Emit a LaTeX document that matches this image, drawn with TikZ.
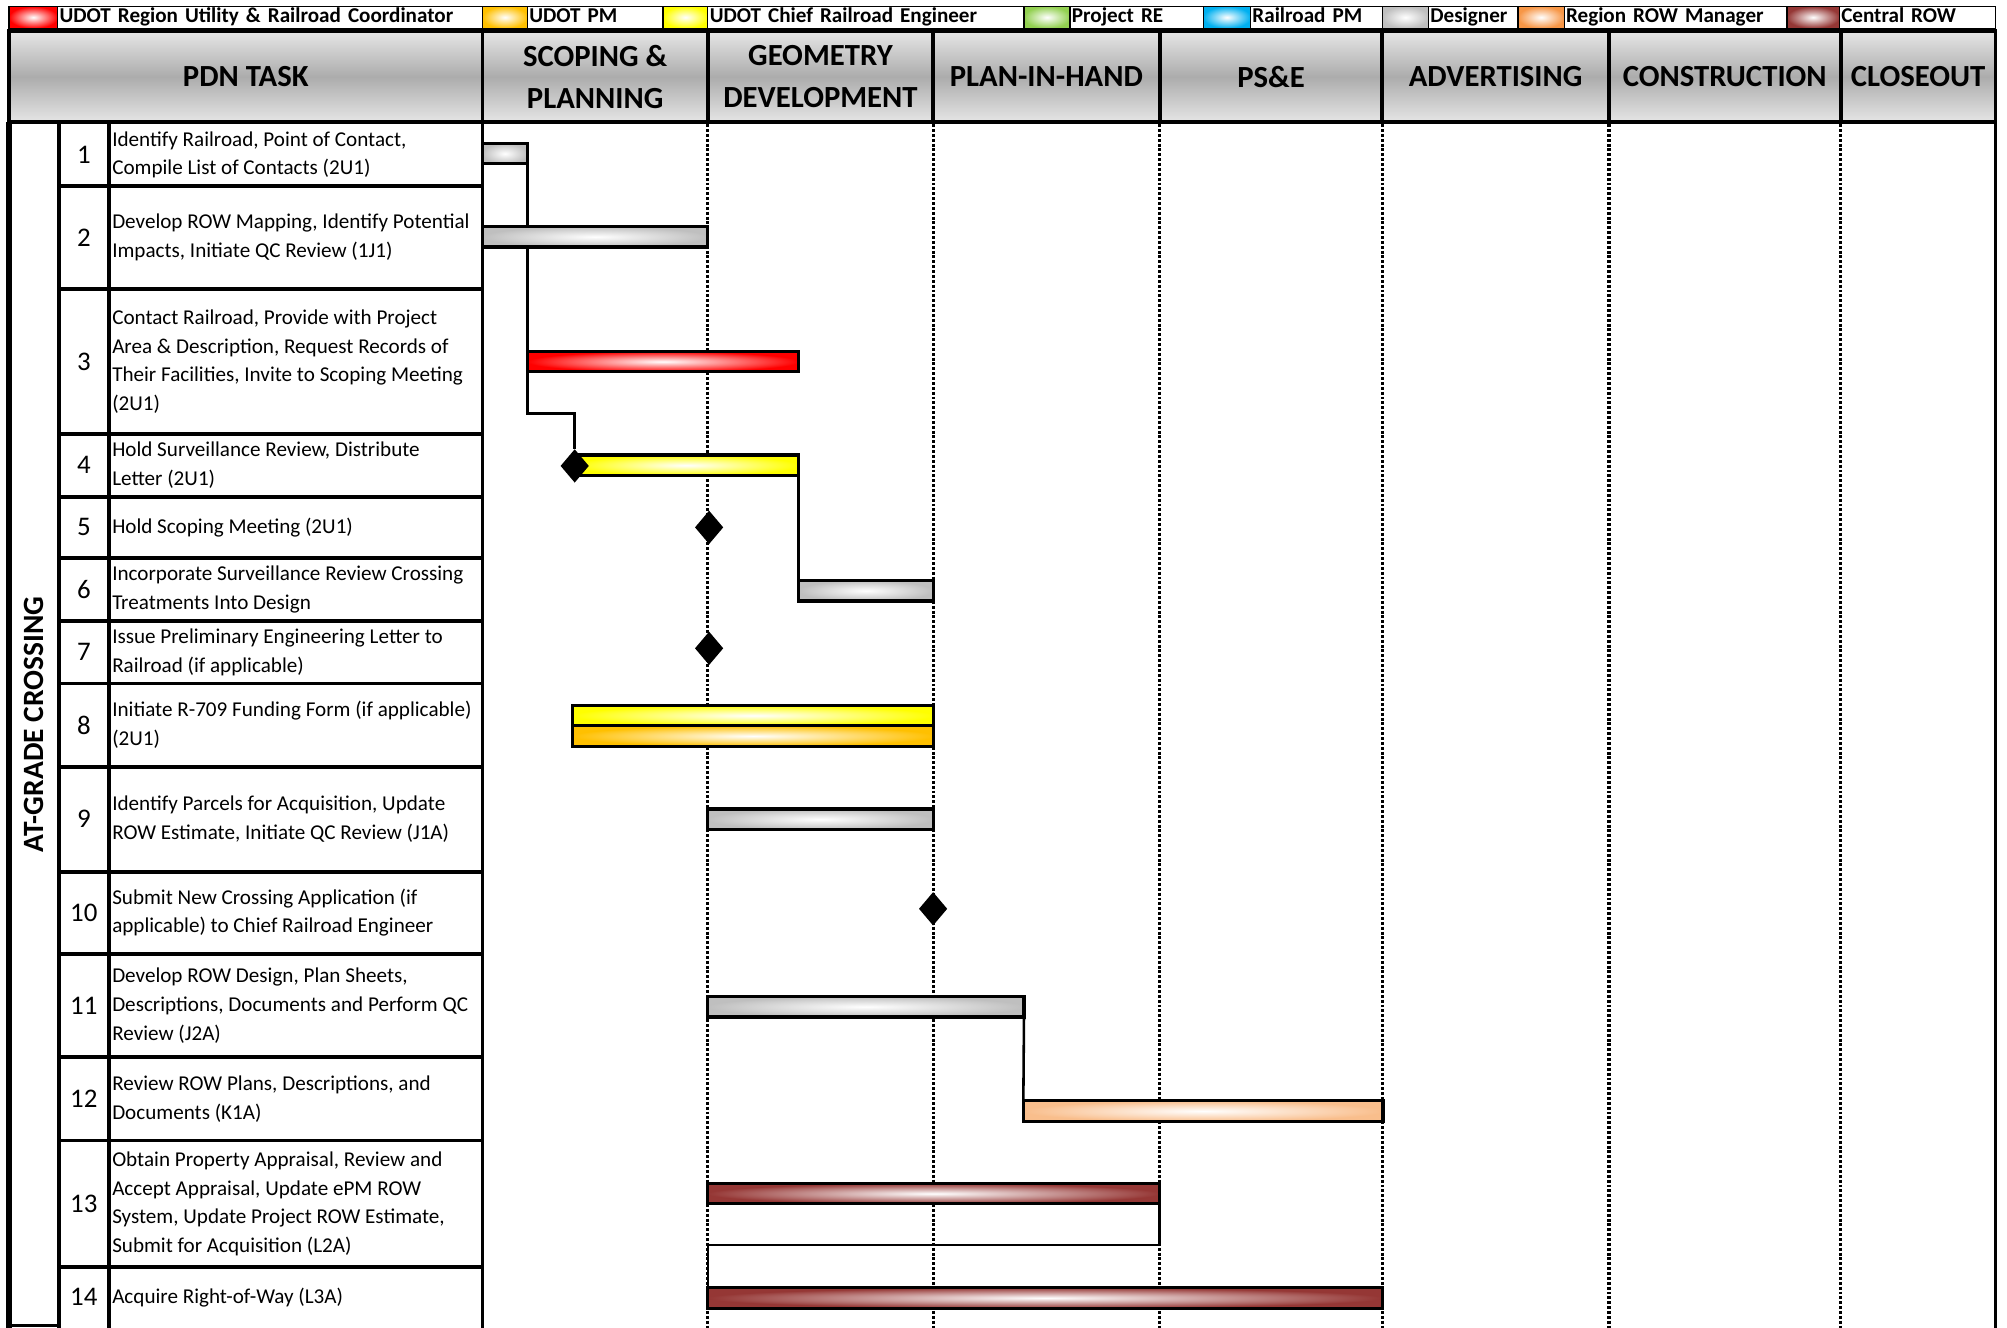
\documentclass[tikz,border=0pt]{standalone}
\usepackage{fontspec}
\setmainfont{Carlito}
\usetikzlibrary{shapes.geometric,positioning,backgrounds}

\definecolor{coordred}{HTML}{FF0000}
\definecolor{pmorange}{HTML}{FFC000}
\definecolor{chiefyellow}{HTML}{FFFF00}
\definecolor{regreen}{HTML}{92D050}
\definecolor{rrblue}{HTML}{00B0F0}
\definecolor{designgray}{HTML}{BFBFBF}
\definecolor{roworange}{HTML}{F79646}
\definecolor{rowpeach}{HTML}{F9BE8C}
\definecolor{centralrow}{HTML}{953735}

\tikzstyle{swatch} = [rectangle, draw, line width=1pt, outer sep=0pt, inner sep=0pt,
    minimum height=17pt, inner color=white]
\tikzstyle{legend} = [rectangle, draw, line width=1pt, outer sep=0pt, minimum height=17pt,
    inner xsep=1.5pt, inner ysep=0pt, text height=12pt, text depth=4pt, align=left,
    font=\fontsize{16.5}{17}\selectfont\bfseries]
\tikzstyle{header} = [rectangle, draw, line width=3pt, outer sep=0pt, inner sep=0pt,
    minimum height=71pt, top color=gray!20, bottom color=gray!20, middle color=gray!65,
    align=center, font=\fontsize{24}{33}\selectfont\bfseries]
\tikzstyle{task} = [anchor=west, align=left, inner sep=1.5pt, font=\fontsize{16.5}{22.5}\selectfont]
\tikzstyle{num} = [font=\fontsize{21}{21}\selectfont]
\tikzstyle{bar} = [rectangle, draw, line width=2.5pt, outer sep=0pt, inner sep=0pt,
    minimum height=16pt, anchor=west, inner color=white]
\tikzstyle{designer} = [bar, outer color=designgray]
\tikzstyle{coordinator} = [bar, outer color=coordred]
\tikzstyle{chiefeng} = [bar, outer color=chiefyellow]
\tikzstyle{udotpm} = [bar, outer color=pmorange]
\tikzstyle{rowmanager} = [bar, outer color=rowpeach]
\tikzstyle{central} = [bar, outer color=centralrow]
\tikzstyle{milestone} = [diamond, fill=black, minimum width=22pt, minimum height=26pt,
    inner sep=0pt, outer sep=0pt]
\tikzstyle{link} = [draw, line width=2pt]
\tikzstyle{phase} = [line width=2.5pt, dash pattern=on 2.3pt off 1.5pt]
\tikzstyle{rule} = [line width=3pt]

\begin{document}
\begin{tikzpicture}[x=1pt, y=-1pt]
    \useasboundingbox (0,0) rectangle (1568,1037);

    % Legend
    \node [swatch, outer color=coordred, minimum width=38pt, anchor=west] (swcoord) at (7,13.5) {};
    \node [legend, right=0pt of swcoord, text width=329pt] (lgcoord) {UDOT Region Utility \& Railroad Coordinator};
    \node [swatch, outer color=pmorange, minimum width=35pt, right=0pt of lgcoord] (swpm) {};
    \node [legend, right=0pt of swpm, text width=103pt] (lgpm) {UDOT PM};
    \node [swatch, outer color=chiefyellow, minimum width=35pt, right=0pt of lgpm] (swchief) {};
    \node [legend, right=0pt of swchief, text width=244pt] (lgchief) {UDOT Chief Railroad Engineer};
    \node [swatch, outer color=regreen, minimum width=36pt, right=0pt of lgchief] (swre) {};
    \node [legend, right=0pt of swre, text width=101pt] (lgre) {Project RE};
    \node [swatch, outer color=rrblue, minimum width=37pt, right=0pt of lgre] (swrr) {};
    \node [legend, right=0pt of swrr, text width=100pt] (lgrr) {Railroad PM};
    \node [swatch, outer color=designgray, minimum width=36pt, right=0pt of lgrr] (swdesign) {};
    \node [legend, right=0pt of swdesign, text width=67pt] (lgdesign) {Designer};
    \node [swatch, outer color=roworange, minimum width=36pt, right=0pt of lgdesign] (swrow) {};
    \node [legend, right=0pt of swrow, text width=171pt] (lgrow) {Region ROW Manager};
    \node [swatch, outer color=centralrow, minimum width=41pt, right=0pt of lgrow] (swcentral) {};
    \node [legend, right=0pt of swcentral, text width=119pt] (lgcentral) {Central ROW};

    % Phase header
    \node [header, minimum width=370pt, anchor=west] (pdntask) at (7,60) {PDN TASK};
    \node [header, minimum width=176pt, right=0pt of pdntask] (scoping) {SCOPING \&\\PLANNING};
    \node [header, minimum width=176pt, right=0pt of scoping] (geometry) {GEOMETRY\\DEVELOPMENT};
    \node [header, minimum width=177pt, right=0pt of geometry] (planinhand) {PLAN-IN-HAND};
    \node [header, minimum width=174pt, right=0pt of planinhand] (pse) {PS\&E};
    \node [header, minimum width=177pt, right=0pt of pse] (advertising) {ADVERTISING};
    \node [header, minimum width=181pt, right=0pt of advertising] (construction) {CONSTRUCTION};
    \node [header, minimum width=121pt, right=0pt of construction] (closeout) {CLOSEOUT};

    % Table frame
    \draw [line width=4pt] (7,95) -- (7,1040);
    \draw [line width=3.5pt] (46,95) -- (46,1040);
    \draw [line width=2pt] (7,1035.5) -- (46,1035.5);
    \draw [rule] (85,95) -- (85,1040);
    \draw [line width=2.5pt] (377,95) -- (377,1040);
    \draw [rule] (1559,95) -- (1559,1040);
    \foreach \y in {145,226,339,388,436,485,534,599,681,745,826,891,990}
        \draw [rule] (46,\y) -- (377,\y);
    \foreach \x in {553,729,906,1080,1257,1438}
        \draw [phase] (\x,97) -- (\x,1040);

    \node [rotate=90, font=\fontsize{23}{23}\selectfont\bfseries] (crossing) at (26.5,566) {AT-GRADE CROSSING};

    % Tasks
    \node [num] (n1) at (65.5,121) {1};
    \node [task] (task1) at (86,121) {Identify Railroad, Point of Contact,\\Compile List of Contacts (2U1)};
    \node [num] (n2) at (65.5,185.5) {2};
    \node [task] (task2) at (86,185.5) {Develop ROW Mapping, Identify Potential\\Impacts, Initiate QC Review (1J1)};
    \node [num] (n3) at (65.5,282.5) {3};
    \node [task] (task3) at (86,282.5) {Contact Railroad, Provide with Project\\Area \& Description, Request Records of\\Their Facilities, Invite to Scoping Meeting\\(2U1)};
    \node [num] (n4) at (65.5,363.5) {4};
    \node [task] (task4) at (86,363.5) {Hold Surveillance Review, Distribute\\Letter (2U1)};
    \node [num] (n5) at (65.5,412) {5};
    \node [task] (task5) at (86,412) {Hold Scoping Meeting (2U1)};
    \node [num] (n6) at (65.5,460.5) {6};
    \node [task] (task6) at (86,460.5) {Incorporate Surveillance Review Crossing\\Treatments Into Design};
    \node [num] (n7) at (65.5,509.5) {7};
    \node [task] (task7) at (86,509.5) {Issue Preliminary Engineering Letter to\\Railroad (if applicable)};
    \node [num] (n8) at (65.5,566.5) {8};
    \node [task] (task8) at (86,566.5) {Initiate R-709 Funding Form (if applicable)\\(2U1)};
    \node [num] (n9) at (65.5,640) {9};
    \node [task] (task9) at (86,640) {Identify Parcels for Acquisition, Update\\ROW Estimate, Initiate QC Review (J1A)};
    \node [num] (n10) at (65.5,713) {10};
    \node [task] (task10) at (86,713) {Submit New Crossing Application (if\\applicable) to Chief Railroad Engineer};
    \node [num] (n11) at (65.5,785.5) {11};
    \node [task] (task11) at (86,785.5) {Develop ROW Design, Plan Sheets,\\Descriptions, Documents and Perform QC\\Review (J2A)};
    \node [num] (n12) at (65.5,858.5) {12};
    \node [task] (task12) at (86,858.5) {Review ROW Plans, Descriptions, and\\Documents (K1A)};
    \node [num] (n13) at (65.5,940.5) {13};
    \node [task] (task13) at (86,940.5) {Obtain Property Appraisal, Review and\\Accept Appraisal, Update ePM ROW\\System, Update Project ROW Estimate,\\Submit for Acquisition (L2A)};
    \node [num] (n14) at (65.5,1013.5) {14};
    \node [task] (task14) at (86,1013.5) {Acquire Right-of-Way (L3A)};

    % Place bars
    \node [designer, minimum width=35pt] (bar1) at (377,120) {};
    \node [designer, minimum width=176pt] (bar2) at (377,185) {};
    \node [coordinator, minimum width=212pt] (bar3) at (412,282.5) {};
    \node [chiefeng, minimum width=176pt] (bar4) at (448,363.5) {};
    \node [designer, minimum width=105pt] (bar6) at (624,461.5) {};
    \node [chiefeng, minimum width=282pt] (bar8) at (447.5,559) {};
    \node [udotpm, minimum width=282pt] (bar8b) at (447.5,575) {};
    \node [designer, minimum width=176pt] (bar9) at (553,640) {};
    \node [designer, minimum width=247pt] (bar11) at (553,786.5) {};
    \node [rowmanager, minimum width=281pt] (bar12) at (799.5,868) {};
    \node [central, minimum width=353pt] (bar13) at (553,932.5) {};
    \node [central, minimum width=527pt] (bar14) at (553,1014) {};

    \node [milestone] (ms4) at (449,364) {};
    \node [milestone] (ms5) at (554,412) {};
    \node [milestone] (ms7) at (554,506.5) {};
    \node [milestone] (ms10) at (729,710) {};

    % Draw links
    \coordinate (k4) at (412,323);
    \coordinate (k13) at (553,972.5);
    \begin{pgfonlayer}{background}
    \path [link] (bar1.south east) -- (k4) -| (ms4.north);
    \path [link] (bar4.south east) -- (bar6.north west);
    \path [link] (bar11.south east) -- (bar12.north west);
    \path [link] (bar13.south east) |- (k13) -- (bar14.north west);
    \end{pgfonlayer}
\end{tikzpicture}
\end{document}
